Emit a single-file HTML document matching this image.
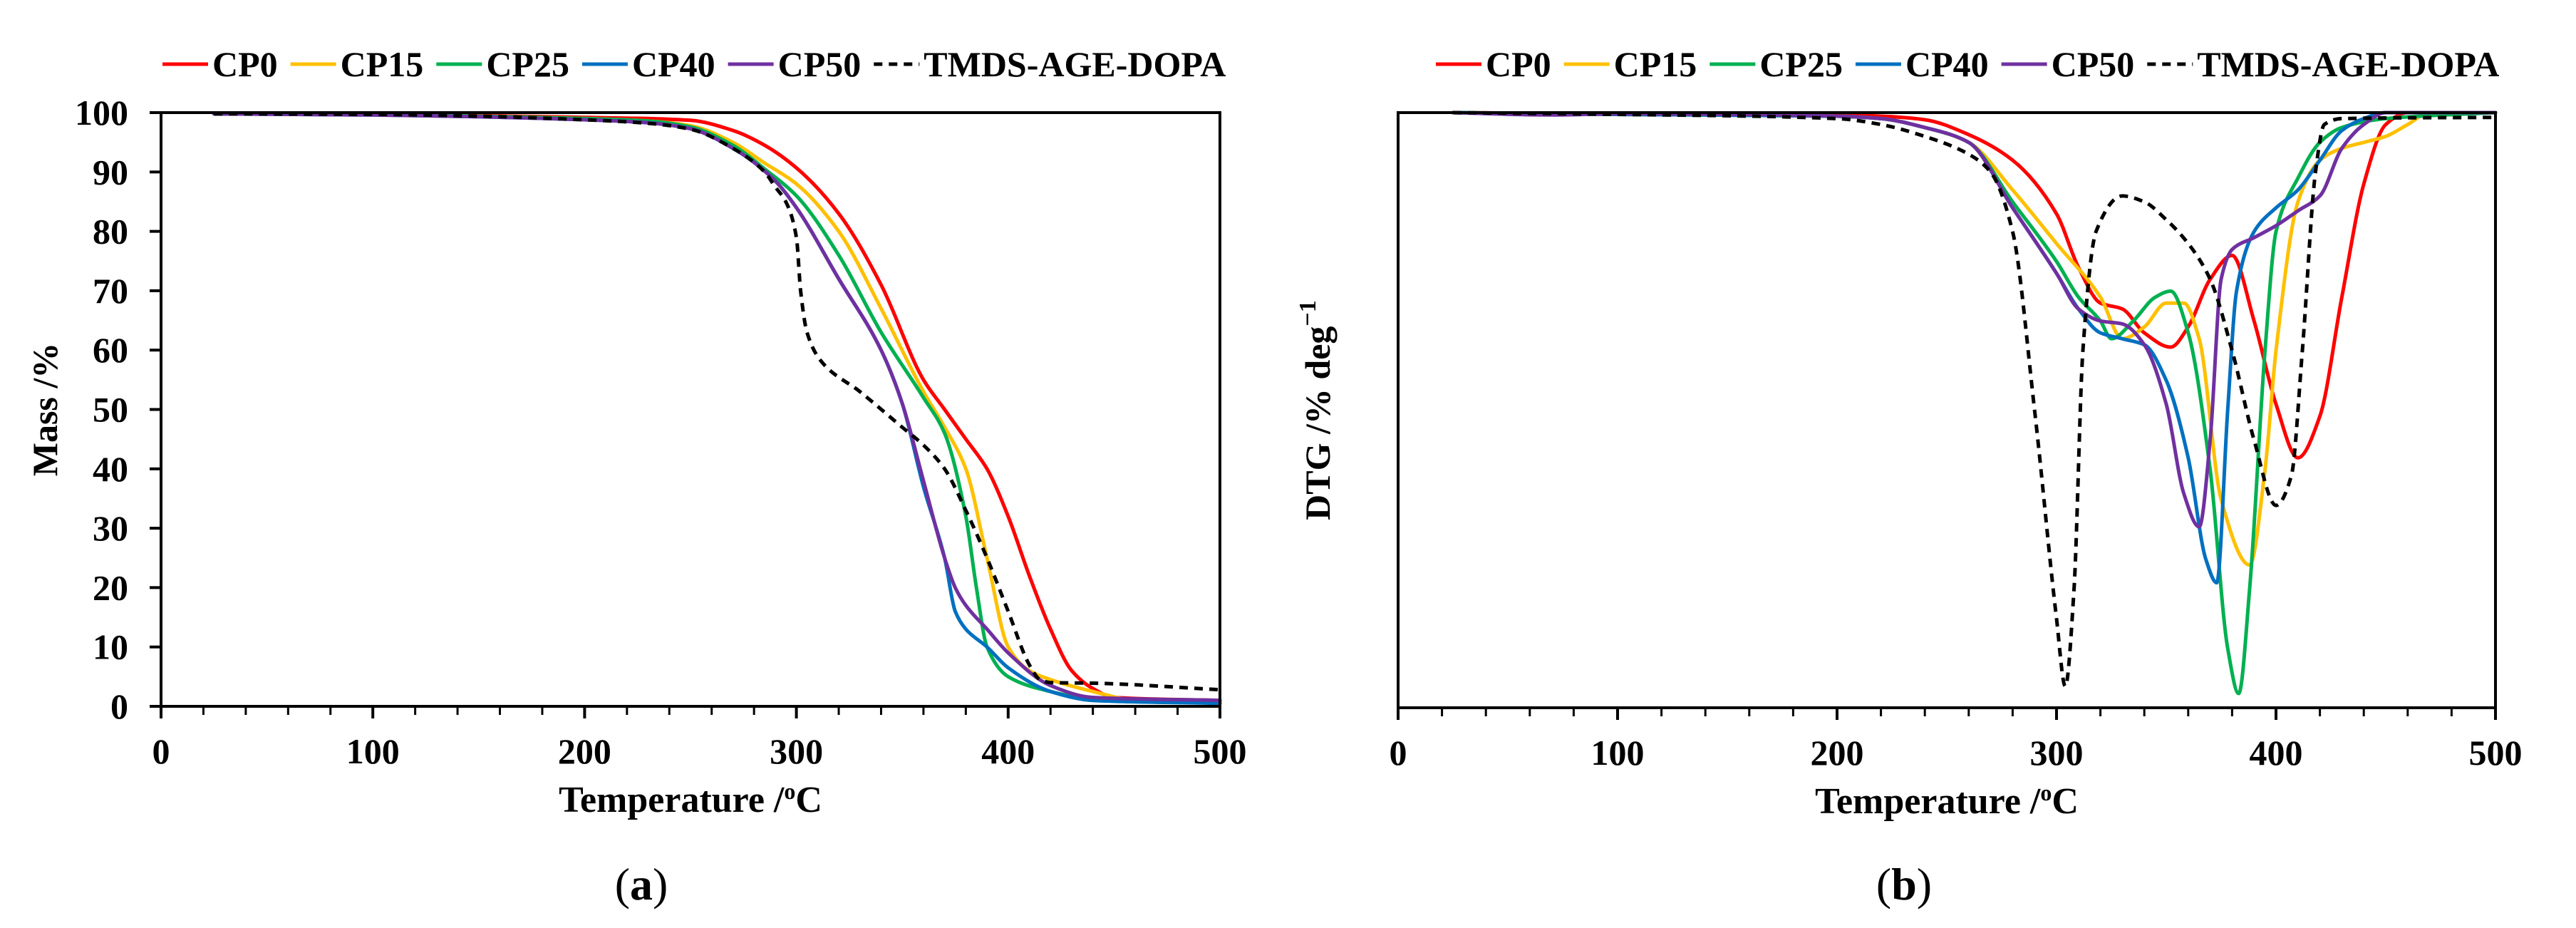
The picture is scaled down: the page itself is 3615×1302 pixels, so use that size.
<!DOCTYPE html>
<html><head><meta charset="utf-8"><style>
html,body{margin:0;padding:0;background:#fff;}
svg{display:block;font-family:"Liberation Serif","DejaVu Serif",serif;}
</style></head><body>
<svg id="fig" width="3615" height="1302" viewBox="0 0 3615 1302" xmlns="http://www.w3.org/2000/svg"></svg>
<script>
// ---- data: panel (a) TGA mass %
const seriesNames = ["CP0","CP15","CP25","CP40","CP50","TMDS-AGE-DOPA"];
const seriesColors = ["#ff0000","#ffc000","#00b050","#0070c0","#7030a0","#000000"];
const massT_CP0 = [25,100,150,200,230,250,270,285,300,320,340,360,370,380,390,400,410,420,430,440,450,500];
const massV_CP0 = [99.8,99.7,99.5,99.2,99,98.7,97,94.5,90.7,83,71,55,50,45,40,32,22,13,6,3,1.5,1];
const massT_CP15 = [25,100,150,200,230,250,270,285,300,320,340,360,370,380,390,400,410,420,440,460,500];
const massV_CP15 = [99.8,99.7,99.4,99,98.6,97.8,95,91.5,88,80,67,53,47,40,25,10,6,4.5,2.5,1,0.5];
const massT_CP25 = [25,100,150,200,230,250,270,285,300,320,340,360,370,380,385,390,400,420,440,500];
const massV_CP25 = [99.8,99.7,99.4,99,98.6,97.6,94.5,90.5,86,76,63,52,46,32,20,10,5,2.5,1.2,0.8];
const massT_CP40 = [25,100,150,200,230,250,270,290,300,320,340,350,360,370,375,380,390,400,420,440,500];
const massV_CP40 = [99.8,99.6,99.3,98.8,98.3,97.3,94,88.5,84,72,60,51,37,25,16,13,10,6.5,2.5,1,0.5];
const massT_CP50 = [25,100,150,200,230,250,270,290,300,320,340,350,360,370,375,380,390,400,420,440,500];
const massV_CP50 = [99.8,99.6,99.3,98.8,98.3,97.3,94,88.5,84,72,60,51,38,25,20,17,13,9,3.5,1.5,1];
const massT_TMDS = [25,100,150,200,230,250,270,285,290,295,300,302,305,312,330,350,360,370,380,390,400,410,415,420,440,500];
const massV_TMDS = [99.8,99.7,99.4,98.8,98.2,97.2,94,90,87.5,85,79,70,63,58,53,47,44,40,33,25,16,7,4.5,4,3.9,2.8];
const massTs = [massT_CP0,massT_CP15,massT_CP25,massT_CP40,massT_CP50,massT_TMDS];
const massVs = [massV_CP0,massV_CP15,massV_CP25,massV_CP40,massV_CP50,massV_TMDS];
// ---- data: panel (b) DTG (arbitrary units, 0 = top, -100 = bottom)
const dtgT_CP0 = [25,100,200,220,240,260,280,300,310,320,330,340,352,360,370,380,390,400,410,420,430,440,450,460,500];
const dtgV_CP0 = [0,-0.2,-0.4,-0.6,-1.2,-3.7,-8,-17,-26,-32,-33,-37,-39.4,-36,-28,-24,-35,-49,-58,-51,-31,-12,-2,0,0];
const dtgT_CP15 = [25,100,200,220,240,260,280,300,320,330,340,350,358,365,375,388,395,400,410,420,430,440,450,460,470,500];
const dtgV_CP15 = [0,-0.3,-0.6,-1,-2.5,-5,-13,-22,-31,-38,-36,-32,-32,-38,-65,-76,-60,-40,-15,-8,-6,-5,-4,-2,0,0];
const dtgT_CP25 = [25,100,200,220,240,260,280,300,310,320,325,335,345,352,360,370,378,383,388,395,400,410,420,430,450,500];
const dtgV_CP25 = [0,-0.3,-0.6,-1,-2.5,-5,-15,-25,-31,-35,-38,-35,-31,-30,-37,-60,-90,-97.6,-80,-40,-20,-11,-5,-2.5,-1,0];
const dtgT_CP40 = [25,100,200,220,240,260,280,300,310,320,330,340,350,360,368,373,378,382,390,400,410,420,430,440,450,500];
const dtgV_CP40 = [0,-0.3,-0.6,-1,-2.5,-5,-16,-27,-33,-37,-38,-39,-45,-58,-75,-79,-50,-30,-20,-16,-13,-8,-3,-1,0,0];
const dtgT_CP50 = [25,70,100,200,220,240,260,280,300,310,320,330,340,350,358,365,370,375,380,390,400,410,420,430,440,450,500];
const dtgV_CP50 = [0,-0.4,-0.2,-0.6,-1,-2.5,-5,-16,-27,-33,-35,-35.5,-39,-49,-64,-69.6,-55,-28,-23,-21,-19,-16.5,-14,-6,-2,0,0];
const dtgT_TMDS = [25,100,200,220,240,260,270,280,290,300,304,308,312,318,330,340,350,360,370,380,390,400,407,412,418,422,430,500];
const dtgV_TMDS = [0,-0.3,-1,-2,-4,-7,-10,-20,-50,-85,-96.4,-80,-40,-20,-14,-15,-18,-22,-28,-40,-55,-66,-61,-40,-10,-2,-1,-0.8];
const dtgTs = [dtgT_CP0,dtgT_CP15,dtgT_CP25,dtgT_CP40,dtgT_CP50,dtgT_TMDS];
const dtgVs = [dtgV_CP0,dtgV_CP15,dtgV_CP25,dtgV_CP40,dtgV_CP50,dtgV_TMDS];
const xTicks = [0,100,200,300,400,500];
const massTicks = [0,10,20,30,40,50,60,70,80,90,100];

const NS="http://www.w3.org/2000/svg";
const svg=document.getElementById('fig');
function el(tag,attrs,parent){const e=document.createElementNS(NS,tag);for(const k in attrs)e.setAttribute(k,attrs[k]);(parent||svg).appendChild(e);return e;}

function smoothPath(px,py){
  const n=px.length;
  const d=[],m=[];
  for(let i=0;i<n-1;i++)d.push((py[i+1]-py[i])/(px[i+1]-px[i]));
  m[0]=d[0];m[n-1]=d[n-2];
  for(let i=1;i<n-1;i++){
    if(d[i-1]*d[i]<=0)m[i]=0;
    else{const w1=2*(px[i+1]-px[i])+(px[i]-px[i-1]),w2=(px[i+1]-px[i])+2*(px[i]-px[i-1]);
      m[i]=(w1+w2)/(w1/d[i-1]+w2/d[i]);}
  }
  let s='M'+px[0].toFixed(1)+' '+py[0].toFixed(1);
  for(let i=0;i<n-1;i++){
    const h=(px[i+1]-px[i])/3;
    s+='C'+(px[i]+h).toFixed(1)+' '+(py[i]+m[i]*h).toFixed(1)+' '+(px[i+1]-h).toFixed(1)+' '+(py[i+1]-m[i+1]*h).toFixed(1)+' '+px[i+1].toFixed(1)+' '+py[i+1].toFixed(1);
  }
  return s;
}

function panel(cfg){
  const g=el('g',{});
  
  
  const L=cfg.L,R=cfg.R,T=cfg.T,B=cfg.B;
  const sx=v=>L+(v-0)/500*(R-L);
  const sy=v=>B-(v-cfg.ymin)/(cfg.ymax-cfg.ymin)*(B-T);
  for(let s=0;s<6;s++){
    const xs=cfg.xs[s].map(sx),ys=cfg.ys[s].map(sy);
    const p=el('path',{d:smoothPath(xs,ys),fill:'none',stroke:seriesColors[s],'stroke-width':5,'stroke-linejoin':'round','stroke-linecap':'round'},g);
    if(s===5){p.setAttribute('stroke-dasharray','12 9');p.setAttribute('stroke-linecap','butt');}
    
    
  }
  const fr=el('rect',{x:L,y:T,width:R-L,height:B-T,fill:'none',stroke:'#000','stroke-width':4},g);
  
  
  for(let v=0;v<=500;v+=20){
    const major=v%100===0;
    el('line',{x1:sx(v),x2:sx(v),y1:B,y2:B+(major?17:12),stroke:'#000','stroke-width':major?4:3},g);
  }
  xTicks.forEach(v=>{
    const t=el('text',{x:sx(v),y:B+80,'text-anchor':'middle','font-size':50,'font-weight':'bold'},g);
    t.textContent=v;
    
    
  });
  const xt=el('text',{x:(L+R)/2,y:B+148,'text-anchor':'middle','font-size':52,'font-weight':'bold'},g);
  xt.innerHTML='Temperature /<tspan font-size="32" dy="-18">o</tspan><tspan dy="18">C</tspan>';
  
  
  if(cfg.yTicks){
    cfg.yTicks.forEach(v=>{
      el('line',{x1:L-16,x2:L,y1:sy(v),y2:sy(v),stroke:'#000','stroke-width':4},g);
      const t=el('text',{x:L-46,y:sy(v)+17,'text-anchor':'end','font-size':50,'font-weight':'bold'},g);
      t.textContent=v;
      
      
    });
  }
  const yt=el('text',{x:0,y:0,'text-anchor':'middle','font-size':50,'font-weight':'bold',transform:`translate(${cfg.ytx},${(T+B)/2}) rotate(-90)`},g);
  yt.innerHTML=cfg.ytitle;
  
  
  const lg=el('g',{},g);
  
  
  let x=cfg.legX;const ly=90;
  for(let s=0;s<6;s++){
    const ln=el('line',{x1:x,x2:x+64,y1:ly,y2:ly,stroke:seriesColors[s],'stroke-width':5},lg);
    if(s===5)ln.setAttribute('stroke-dasharray','12 9');
    const t=el('text',{x:x+70,y:ly+17,'font-size':50,'font-weight':'bold'},lg);
    t.textContent=seriesNames[s];
    
    
    x+=70+t.getComputedTextLength()+18;
  }
  const cap=el('text',{x:cfg.capX,y:1262,'text-anchor':'middle','font-size':64},g);
  cap.innerHTML='(<tspan font-weight="bold">'+cfg.cap+'</tspan>)';
  
  
}
panel({name:'mass-chart',L:226,R:1712,T:158,B:991,ymin:0,ymax:100,xs:massTs,ys:massVs,yTicks:massTicks,
  ytx:80,ytitle:'Mass /%',legX:228,capX:900,cap:'a'});
panel({name:'dtg-chart',L:1962,R:3502,T:158,B:993,ymin:-100,ymax:0,xs:dtgTs,ys:dtgVs,yTicks:null,
  ytx:1866,ytitle:'DTG /% deg<tspan font-size="34" dy="-20">−1</tspan>',legX:2015,capX:2672,cap:'b'});
</script>
</body></html>
